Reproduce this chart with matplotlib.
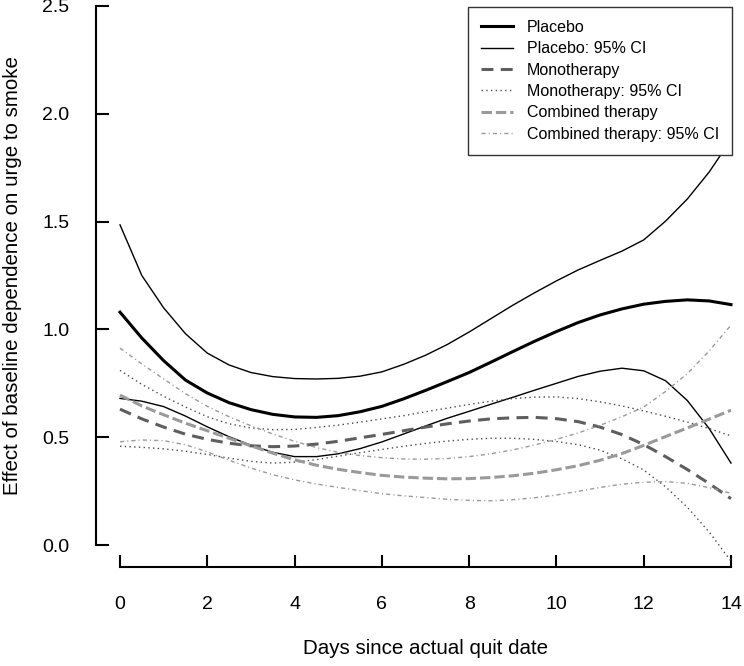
import matplotlib
matplotlib.use("Agg")
import matplotlib.pyplot as plt

plt.rcParams['font.family'] = ['Liberation Sans', 'DejaVu Sans']

days = [0, 0.5, 1, 1.5, 2, 2.5, 3, 3.5, 4, 4.5, 5, 5.5, 6, 6.5, 7,
        7.5, 8, 8.5, 9, 9.5, 10, 10.5, 11, 11.5, 12, 12.5, 13, 13.5, 14]

placebo = [1.08, 0.96, 0.855, 0.765, 0.705, 0.66, 0.628, 0.606, 0.594, 0.592,
           0.60, 0.618, 0.643, 0.678, 0.717, 0.758, 0.80, 0.848, 0.897, 0.945,
           0.99, 1.032, 1.067, 1.095, 1.117, 1.13, 1.137, 1.132, 1.115]
placebo_hi = [1.485, 1.25, 1.10, 0.98, 0.89, 0.835, 0.80, 0.781, 0.772, 0.77,
              0.773, 0.783, 0.803, 0.838, 0.88, 0.93, 0.988, 1.05, 1.112, 1.17,
              1.225, 1.276, 1.32, 1.363, 1.415, 1.502, 1.605, 1.73, 1.88]
placebo_lo = [0.68, 0.667, 0.642, 0.598, 0.548, 0.502, 0.463, 0.43, 0.41, 0.41,
              0.423, 0.447, 0.478, 0.515, 0.552, 0.588, 0.62, 0.653, 0.685, 0.718,
              0.75, 0.782, 0.806, 0.82, 0.808, 0.762, 0.67, 0.54, 0.38]

mono = [0.63, 0.585, 0.547, 0.514, 0.49, 0.472, 0.46, 0.456, 0.459, 0.468,
        0.481, 0.497, 0.513, 0.53, 0.547, 0.562, 0.575, 0.585, 0.59, 0.592,
        0.586, 0.572, 0.547, 0.512, 0.466, 0.41, 0.35, 0.285, 0.215]
mono_hi = [0.81, 0.745, 0.69, 0.64, 0.595, 0.562, 0.543, 0.535, 0.536, 0.545,
           0.556, 0.57, 0.585, 0.60, 0.618, 0.635, 0.652, 0.667, 0.679, 0.686,
           0.687, 0.679, 0.664, 0.645, 0.622, 0.597, 0.57, 0.54, 0.506]
mono_lo = [0.458, 0.453, 0.446, 0.435, 0.42, 0.403, 0.388, 0.38, 0.384, 0.396,
           0.412, 0.428, 0.443, 0.458, 0.471, 0.482, 0.49, 0.495, 0.495, 0.49,
           0.48, 0.465, 0.44, 0.40, 0.348, 0.27, 0.175, 0.06, -0.075]

comb = [0.695, 0.645, 0.604, 0.565, 0.53, 0.495, 0.46, 0.426, 0.395, 0.37,
        0.351, 0.336, 0.323, 0.315, 0.31, 0.307, 0.308, 0.313, 0.321, 0.333,
        0.349, 0.368, 0.393, 0.424, 0.462, 0.503, 0.543, 0.584, 0.625]
comb_hi = [0.913, 0.84, 0.77, 0.702, 0.643, 0.595, 0.553, 0.515, 0.481, 0.452,
           0.43, 0.415, 0.405, 0.399, 0.398, 0.401, 0.41, 0.423, 0.441, 0.464,
           0.49, 0.52, 0.555, 0.595, 0.64, 0.712, 0.795, 0.9, 1.02]
comb_lo = [0.479, 0.487, 0.484, 0.465, 0.432, 0.393, 0.357, 0.326, 0.302, 0.283,
           0.267, 0.252, 0.238, 0.228, 0.22, 0.212, 0.207, 0.205, 0.21, 0.219,
           0.232, 0.249, 0.267, 0.282, 0.291, 0.294, 0.286, 0.266, 0.24]

W, H = 744, 666
fig = plt.figure(figsize=(W / 100, H / 100), dpi=100)
ax = fig.add_axes([120 / W, 1 - 545 / H, (731 - 120) / W, (545 - 6) / H])

ax.plot(days, placebo, color='black', lw=2.2, clip_on=False, label='Placebo')
ax.plot(days, placebo_hi, color='black', lw=1.0, clip_on=False,
        label='Placebo: 95% CI')
ax.plot(days, placebo_lo, color='black', lw=1.0, clip_on=False)
ax.plot(days, mono, color='#5e5e5e', lw=2.2, dashes=(3.9, 2.4), clip_on=False,
        label='Monotherapy')
ax.plot(days, mono_hi, color='#4a4a4a', lw=1.0, dashes=(1, 2.4), clip_on=False,
        label='Monotherapy: 95% CI')
ax.plot(days, mono_lo, color='#4a4a4a', lw=1.0, dashes=(1, 2.4), clip_on=False)
ax.plot(days, comb, color='#9a9a9a', lw=2.2, dashes=(3.4, 1.3), clip_on=False,
        label='Combined therapy')
ax.plot(days, comb_hi, color='#9a9a9a', lw=1.0, dashes=(3, 2.2, 0.8, 2.2),
        clip_on=False, label='Combined therapy: 95% CI')
ax.plot(days, comb_lo, color='#9a9a9a', lw=1.0, dashes=(3, 2.2, 0.8, 2.2),
        clip_on=False)

ax.set_xlim(0, 14)
ax.set_ylim(0, 2.5)
ax.set_xticks(range(0, 15, 2))
ax.set_yticks([0, 0.5, 1.0, 1.5, 2.0, 2.5])
ax.set_yticklabels(['0.0', '0.5', '1.0', '1.5', '2.0', '2.5'])

for s in ['top', 'right']:
    ax.spines[s].set_visible(False)
ax.spines['left'].set_position(('outward', 24 * 0.72))
ax.spines['bottom'].set_position(('outward', 22 * 0.72))
for s in ['left', 'bottom']:
    ax.spines[s].set_linewidth(1.5)
ax.tick_params(axis='both', direction='in', length=9, width=1.5, labelsize=14)
ax.tick_params(axis='y', pad=19)
ax.tick_params(axis='x', pad=21)

fig.text(13 / W, 1 - 275.5 / H, 'Effect of baseline dependence on urge to smoke',
         rotation=90, ha='center', va='center', fontsize=14.8)
fig.text(425.5 / W, 1 - 648 / H, 'Days since actual quit date',
         ha='center', va='center', fontsize=14.8)

leg = ax.legend(loc='upper right', bbox_to_anchor=(732 / W, 1 - 7 / H),
                bbox_transform=fig.transFigure, borderaxespad=0, fontsize=11.5,
                fancybox=False, framealpha=1, edgecolor='#333333',
                handlelength=2.0, handletextpad=0.9, labelspacing=0.4,
                borderpad=0.8)
leg.get_frame().set_linewidth(1.0)
leg.set_zorder(5)

fig.savefig('out.png', dpi=100)
